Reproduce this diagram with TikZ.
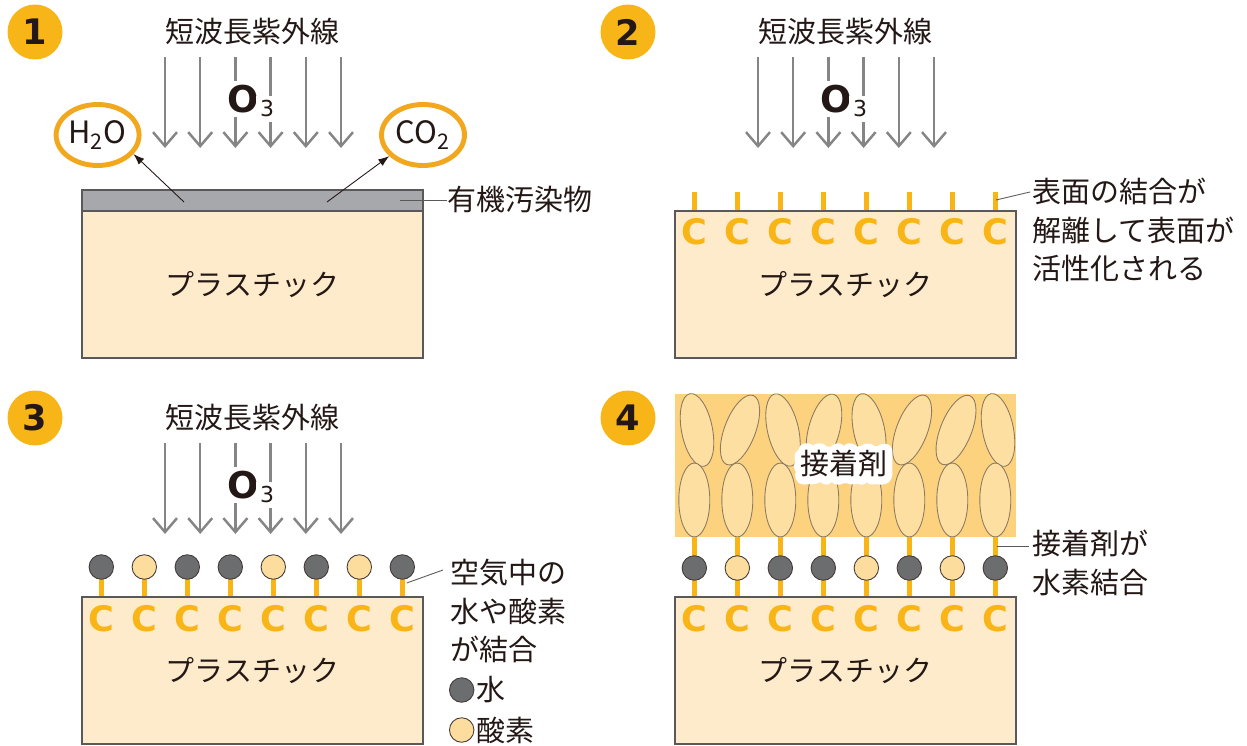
\documentclass[tikz,border=0pt]{standalone}
\usepackage{fontspec}
\setmainfont{Noto Sans CJK JP}
\newfontfamily\geofont{DejaVu Sans}
\newfontfamily\halofont{Noto Sans CJK JP}[FakeBold=50]
\usetikzlibrary{arrows.meta,shapes.geometric}
\definecolor{badgeorange}{HTML}{F8B517}
\definecolor{bondorange}{HTML}{F9B416}
\definecolor{ringorange}{HTML}{F2A81E}
\definecolor{plastic}{HTML}{FEEBCB}
\definecolor{edgegray}{HTML}{5A5858}
\definecolor{soilgray}{HTML}{A7A8AB}
\definecolor{raygray}{HTML}{858585}
\definecolor{waterdark}{HTML}{6C6D6F}
\definecolor{oxylight}{HTML}{FDDD9E}
\definecolor{gluebg}{HTML}{FDD27F}
\definecolor{gluegrain}{HTML}{FDDFA1}
\definecolor{grainedge}{HTML}{8C7B62}
\definecolor{ink}{HTML}{231815}
\newcommand{\labelsize}{\fontsize{16.5}{22.1}\selectfont}
\tikzset{
  badge/.style={circle,fill=badgeorange,minimum size=1.1cm,inner sep=0pt,
    font=\geofont\fontsize{20}{20}\selectfont\bfseries,text=ink},
  headline/.style={font=\labelsize,text=ink,inner sep=0pt},
  ray/.style={draw=raygray,line width=1.4pt,
    -{Straight Barb[length=2.8mm,width=4.8mm]}},
  ozone/.style={fill=white,inner sep=2.5pt,text=ink},
  plasticbox/.style={draw=edgegray,line width=.8pt,fill=plastic,
    minimum width=6.82cm,minimum height=2.94cm,inner sep=0pt,
    font=\labelsize,text=ink},
  soil/.style={draw=edgegray,line width=.8pt,fill=soilgray,
    minimum width=6.82cm,minimum height=.42cm,inner sep=0pt},
  ring/.style={ellipse,draw=ringorange,line width=2.8pt,
    minimum width=1.66cm,minimum height=1.22cm,inner sep=0pt,
    font=\fontsize{17.5}{17.5}\selectfont,text=ink},
  pointer/.style={-{Latex[length=2.2mm,width=1.6mm]},draw=ink,line width=.5pt},
  bond/.style={draw=bondorange,line width=.1cm},
  carbon/.style={text=bondorange,font=\geofont\fontsize{20}{20}\selectfont\bfseries,
    inner sep=0pt},
  molecule/.style={circle,draw=ink!85,line width=.5pt,minimum size=.49cm,
    inner sep=0pt},
  leader/.style={draw=edgegray,line width=.5pt},
  note/.style={font=\labelsize,text=ink,align=left,inner sep=0pt,anchor=west},
  gluebed/.style={fill=gluebg,minimum width=6.82cm,minimum height=2.86cm,
    inner sep=0pt},
  grain/.style={ellipse,draw=grainedge,line width=.5pt,fill=gluegrain,
    minimum width=.62cm,minimum height=1.48cm,inner sep=0pt},
}

\begin{document}
\begin{tikzpicture}[x=0.02cm,y=-0.02cm]
\useasboundingbox (0,0) rectangle (1247,746);

\foreach \n/\bx/\by in {1/35/32,2/628/32,3/35/418,4/628/418}
  \node[badge] (badge\n) at (\bx,\by) {\n};

\foreach \p/\px/\py in {p1/0/0,p2/593/0,p3/0/386}{
  \begin{scope}[shift={(\px,\py)}]
  \node[headline] (\p-uv) at (252.5,32) {短波長紫外線};
  \foreach \k in {0,...,5}
    \draw[ray] (165+35.2*\k,57) -- (165+35.2*\k,148);
  \node[ozone,font=\geofont\fontsize{21}{21}\selectfont\bfseries] (\p-o) at (243.5,99) {O};
  \node[ozone,font=\geofont\fontsize{12.5}{12.5}\selectfont] (\p-sub) at (267,109) {3};
  \end{scope}
}

% panel 1
\node[plasticbox] (p1-box) at (252.5,284.5) {プラスチック};
\node[soil] (p1-soil) at (252.5,200.5) {};
\node[ring] (h2o) at (97.6,135) {H\textsubscript{2}O};
\node[ring] (co2) at (423,135) {CO\textsubscript{2}};
\coordinate (h2o-src) at (184,202);
\coordinate (co2-src) at (327,202);
\draw[pointer] (h2o-src) -- (h2o.-28);
\draw[pointer] (co2-src) -- (co2.-148);
\coordinate (p1-tap) at (400,200);
\node[note] (p1-note) at (447,200) {有機汚染物};
\draw[leader] (p1-tap) -- (p1-note.west);

% panel 2
\begin{scope}[shift={(593,0)}]
\node[plasticbox] (p2-box) at (252.5,284.5) {プラスチック};
\foreach \i in {0,...,7}{
  \node[carbon] (p2-c\i) at (101.3+43*\i,232) {C};
  \draw[bond] (p2-c\i |- p2-box.north) -- ++(0,-18);
}
\coordinate (p2-tap) at (403,200);
\coordinate (p2-end) at (437,192);
\node[note] (p2-note) at (439,230) {表面の結合が\\解離して表面が\\活性化される};
\draw[leader] (p2-tap) -- (p2-end);
\end{scope}

% panel 3
\begin{scope}[shift={(0,386)}]
\node[plasticbox] (p3-box) at (252.5,284.5) {プラスチック};
\foreach \tone [count=\i from 0] in
  {waterdark,oxylight,waterdark,waterdark,oxylight,waterdark,oxylight,waterdark}{
  \node[carbon] (p3-c\i) at (101.3+43*\i,233) {C};
  \draw[bond] (p3-c\i |- p3-box.north) -- ++(0,-30);
  \node[molecule,fill=\tone] (p3-m\i) at (101.3+43*\i,181) {};
}
\coordinate (p3-tap) at (406.7,197);
\coordinate (p3-end) at (443,184);
\node[note] (p3-note) at (450,225) {空気中の\\水や酸素\\が結合};
\draw[leader] (p3-tap) -- (p3-end);
\node[molecule,fill=waterdark] (p3-key-water) at (461.7,304) {};
\node[note] (p3-key-water-text) at (476,304) {水};
\node[molecule,fill=oxylight] (p3-key-oxy) at (461.7,344) {};
\node[note] (p3-key-oxy-text) at (476,344) {酸素};
\end{scope}

% panel 4
\begin{scope}[shift={(593,386)}]
\node[plasticbox] (p4-box) at (252.5,284.5) {プラスチック};
\node[gluebed] (p4-glue) at (252.5,79.5) {};
\foreach \gx/\tilt [count=\i] in
  {104/11,147/-21,190/13,231/-15,276/12,319/-21,363/-22,405/11}
  \node[grain,rotate=\tilt] (p4-t\i) at (\gx,44) {};
\foreach \tone [count=\i from 0] in
  {waterdark,oxylight,waterdark,waterdark,oxylight,waterdark,oxylight,waterdark}{
  \node[grain] (p4-b\i) at (101.3+43*\i,114) {};
  \node[carbon] (p4-c\i) at (101.3+43*\i,233) {C};
  \draw[bond] (p4-b\i.south) -- (p4-c\i |- p4-box.north);
  \node[molecule,fill=\tone] (p4-m\i) at (101.3+43*\i,182) {};
}
\node[headline,text=white,font=\halofont\labelsize,line join=round,line cap=round]
  (p4-glue-halo) at (251,78) {接着剤};
\node[headline] (p4-glue-name) at (251,78) {接着剤};
\coordinate (p4-tap) at (404,160);
\coordinate (p4-end) at (436,160);
\node[note] (p4-note) at (439,177) {接着剤が\\水素結合};
\draw[leader] (p4-tap) -- (p4-end);
\end{scope}
\end{tikzpicture}
\end{document}
